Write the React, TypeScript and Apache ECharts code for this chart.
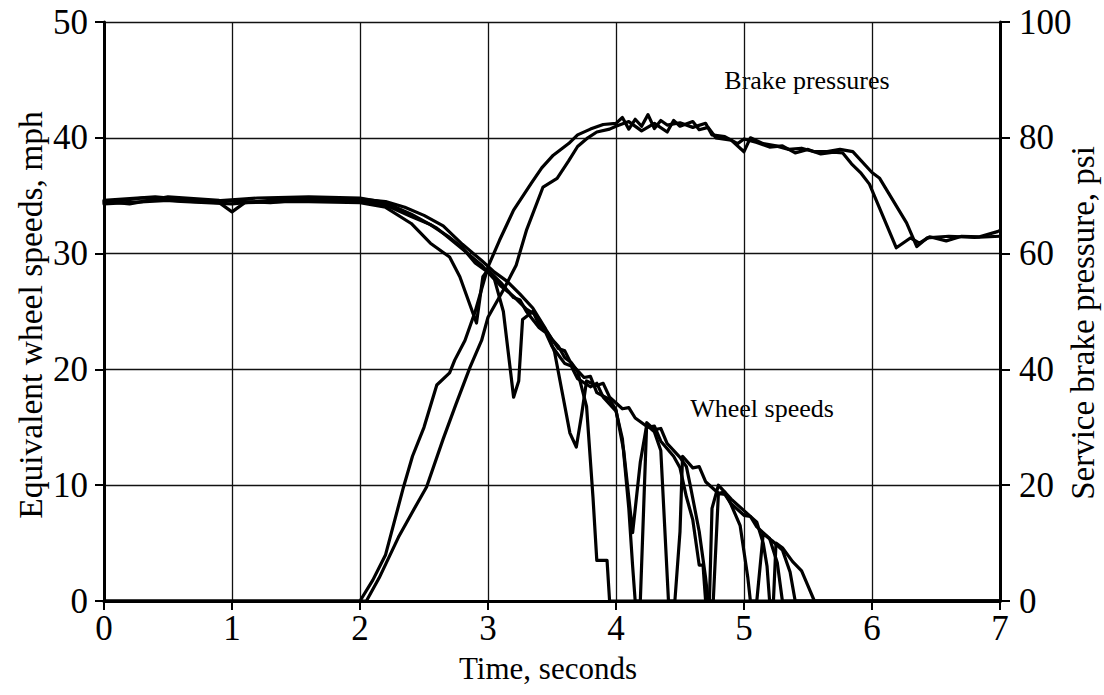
import React, { useEffect, useRef } from "react";
import * as echarts from "echarts";

// Time axis ticks (seconds) and value axis ticks
const timeTicks = [0, 1, 2, 3, 4, 5, 6, 7];
const speedTicks = [0, 10, 20, 30, 40, 50];
const pressureTicks = [0, 20, 40, 60, 80, 100];

// Equivalent wheel speeds, mph: [time s, speed]
const wheel1: number[][] = [
  [0, 34.4], [0.3, 34.8], [0.6, 34.5], [1.0, 34.3], [1.4, 34.7], [1.8, 34.6], [2.0, 34.6],
  [2.2, 34.2], [2.4, 33.2], [2.55, 32.5], [2.7, 31.4], [2.8, 30.5], [2.9, 29.2], [3.0, 28.4],
  [3.1, 27.2], [3.2, 26.3], [3.3, 25.2], [3.36, 24.8], [3.4, 23.8], [3.46, 23.3], [3.5, 22.6],
  [3.55, 22.0], [3.6, 21.0], [3.65, 20.6], [3.7, 19.8], [3.77, 16.8], [3.82, 9], [3.85, 3.5],
  [3.93, 3.5], [3.95, 0], [7, 0],
];
const wheel2: number[][] = [
  [0, 34.3], [0.5, 34.6], [0.9, 34.4], [1.0, 33.6], [1.1, 34.4], [1.5, 34.5], [2.0, 34.4],
  [2.2, 34.0], [2.4, 32.6], [2.55, 30.9], [2.7, 29.7], [2.78, 28], [2.91, 24], [2.96, 28],
  [3.0, 28.6], [3.1, 27.5], [3.2, 26.2], [3.25, 26.0], [3.3, 25], [3.4, 23.6], [3.45, 23.2],
  [3.5, 22], [3.6, 20.5], [3.65, 20.3], [3.7, 19.2], [3.8, 18.5], [3.85, 18.8], [3.9, 17.6],
  [4.0, 16.4], [4.05, 14], [4.1, 8], [4.13, 3], [4.15, 0], [4.19, 0], [4.24, 15.4], [4.3, 14.8],
  [4.35, 14.9], [4.4, 13.6], [4.5, 12.4], [4.55, 11.6], [4.58, 10], [4.65, 6], [4.7, 2],
  [4.72, 0], [4.76, 0], [4.8, 9.3], [4.85, 9.2], [4.9, 8.4], [5.0, 7.4], [5.05, 7.3],
  [5.1, 6.4], [5.2, 5.4], [5.26, 3.3], [5.3, 0], [7, 0],
];
const wheel3: number[][] = [
  [0, 34.6], [0.4, 34.9], [0.8, 34.5], [1.2, 34.8], [1.6, 34.9], [2.0, 34.8], [2.2, 34.4],
  [2.4, 33.4], [2.6, 32.2], [2.8, 30.4], [2.95, 29], [3.05, 27.8], [3.12, 25], [3.2, 17.6],
  [3.24, 19], [3.27, 24.3], [3.35, 25], [3.4, 24.2], [3.45, 23.4], [3.55, 21.8], [3.6, 21.6],
  [3.65, 20.5], [3.75, 19.3], [3.8, 19.4], [3.85, 18], [3.95, 17.4], [4.0, 16.5], [4.06, 13],
  [4.13, 5.9], [4.19, 12], [4.24, 15.2], [4.3, 14.6], [4.35, 13], [4.41, 0], [4.46, 0],
  [4.5, 6], [4.52, 12.5], [4.6, 11.5], [4.65, 11.6], [4.7, 10.3], [4.8, 9.3], [4.85, 9.4],
  [4.9, 8.3], [4.97, 6.5], [5.03, 2], [5.05, 0], [5.1, 0], [5.15, 5.8], [5.22, 5.2],
  [5.3, 4.4], [5.36, 2.5], [5.4, 0], [7, 0],
];
const wheel4: number[][] = [
  [0, 34.5], [0.2, 34.3], [0.5, 34.9], [0.9, 34.6], [1.3, 34.4], [1.7, 34.8], [2.0, 34.7],
  [2.2, 34.5], [2.35, 34], [2.5, 33.3], [2.65, 32.4], [2.8, 30.8], [2.95, 29.4], [3.05, 28.4],
  [3.15, 27.6], [3.25, 26.5], [3.35, 25.3], [3.45, 23.5], [3.52, 21.5], [3.58, 18], [3.64, 14.5],
  [3.69, 13.3], [3.73, 16], [3.77, 19], [3.85, 18.6], [3.9, 18.8], [3.95, 17.6], [4.05, 16.6],
  [4.1, 16.7], [4.15, 15.8], [4.25, 15], [4.3, 15.1], [4.35, 13.8], [4.45, 12.5], [4.5, 11.5],
  [4.55, 9], [4.6, 7], [4.65, 3.1], [4.68, 3.1], [4.7, 0], [4.73, 0], [4.75, 8], [4.8, 10],
  [4.9, 8.8], [5.0, 7.8], [5.1, 6.8], [5.15, 5], [5.18, 3], [5.2, 0], [5.23, 0], [5.25, 5],
  [5.3, 4.6], [5.38, 3.4], [5.45, 2.6], [5.5, 1.3], [5.55, 0], [7, 0],
];

// Service brake pressures, psi: [time s, pressure]
const pressure1: number[][] = [
  [0, 0], [2.0, 0], [2.1, 3.6], [2.2, 8], [2.34, 19.7], [2.41, 25], [2.5, 30], [2.6, 37.3],
  [2.7, 39.4], [2.74, 41.6], [2.82, 45], [2.9, 50], [3.0, 57.7], [3.09, 62.3], [3.2, 67.5],
  [3.34, 72.2], [3.42, 74.8], [3.51, 77], [3.63, 79], [3.7, 80.5], [3.8, 81.5], [3.9, 82.3],
  [4.0, 82.5], [4.05, 83.5], [4.1, 81.5], [4.15, 83.2], [4.2, 82], [4.25, 84], [4.3, 81.6],
  [4.35, 83], [4.4, 82.2], [4.5, 82.6], [4.6, 81.8], [4.7, 82.5], [4.75, 80.5], [4.85, 80.2],
  [4.95, 79], [5.0, 79.8], [5.1, 79.2], [5.2, 78.4], [5.3, 78.6], [5.4, 77.4], [5.5, 78],
  [5.6, 77.2], [5.7, 77.5], [5.77, 77.4], [5.84, 75.5], [5.91, 74], [5.98, 72], [6.19, 61],
  [6.3, 62.7], [6.37, 61.8], [6.45, 62.9], [6.58, 62.2], [6.7, 63], [6.84, 62.9], [6.98, 63.8],
  [7, 64],
];
const pressure2: number[][] = [
  [0, 0], [2.05, 0], [2.15, 4], [2.3, 11], [2.4, 15], [2.52, 19.7], [2.65, 28], [2.75, 34],
  [2.86, 40.4], [2.95, 45], [3.0, 49], [3.12, 53.7], [3.22, 58], [3.3, 64], [3.43, 71.5],
  [3.54, 73], [3.63, 76], [3.7, 78.5], [3.78, 80], [3.85, 81], [3.95, 81.5], [4.0, 82],
  [4.1, 82.8], [4.2, 81.2], [4.3, 82.5], [4.4, 81], [4.45, 83], [4.5, 82], [4.6, 82.8],
  [4.65, 81.4], [4.72, 81.8], [4.78, 80], [4.9, 79.6], [5.0, 77.6], [5.05, 80], [5.15, 79],
  [5.25, 78.6], [5.35, 78], [5.45, 78.2], [5.55, 77.6], [5.65, 77.6], [5.75, 78], [5.85, 77.6],
  [6.0, 74], [6.06, 73], [6.27, 65.3], [6.35, 61.2], [6.43, 62.7], [6.6, 63], [6.8, 62.8],
  [7, 63],
];

const FONT = "'Liberation Serif', 'Times New Roman', serif";

export default function App() {
  const ref = useRef<HTMLDivElement>(null);
  useEffect(() => {
    if (!ref.current) return;
    const chart = echarts.init(ref.current, undefined, { renderer: "svg" });
    const line = (data: number[][], yIdx: number) => ({
      type: "line",
      data,
      yAxisIndex: yIdx,
      showSymbol: false,
      symbol: "none",
      lineStyle: { color: "#000", width: 3.2, join: "round", cap: "round" },
      z: 3,
    });
    const title = (text: string, x: number, y: number, size: number, rot: number) => ({
      type: "text",
      x,
      y,
      rotation: rot,
      style: {
        text,
        fontFamily: FONT,
        fontSize: size,
        fill: "#000",
        align: "center",
        verticalAlign: "middle",
      },
    });
    chart.setOption({
      animation: false,
      backgroundColor: "#fff",
      grid: { left: 104, right: 104, top: 22, bottom: 94, containLabel: false },
      xAxis: {
        type: "value",
        min: timeTicks[0],
        max: timeTicks[timeTicks.length - 1],
        interval: 1,
        axisLine: { show: true, onZero: false, lineStyle: { color: "#000", width: 3 } },
        axisTick: { show: true, inside: false, length: 9, lineStyle: { color: "#000", width: 2 } },
        axisLabel: { margin: 10, color: "#000", fontFamily: FONT, fontSize: 35 },
        splitLine: { show: true, lineStyle: { color: "#111", width: 1.3 } },
      },
      yAxis: [
        {
          type: "value",
          position: "left",
          min: speedTicks[0],
          max: speedTicks[speedTicks.length - 1],
          interval: 10,
          axisLine: { show: true, onZero: false, lineStyle: { color: "#000", width: 3 } },
          axisTick: { show: true, inside: false, length: 9, lineStyle: { color: "#000", width: 2 } },
          axisLabel: { margin: 16, color: "#000", fontFamily: FONT, fontSize: 35 },
          splitLine: { show: true, lineStyle: { color: "#111", width: 1.3 } },
        },
        {
          type: "value",
          position: "right",
          min: pressureTicks[0],
          max: pressureTicks[pressureTicks.length - 1],
          interval: 20,
          axisLine: { show: true, onZero: false, lineStyle: { color: "#000", width: 3 } },
          axisTick: { show: true, inside: false, length: 10, lineStyle: { color: "#000", width: 2 } },
          axisLabel: { margin: 19, color: "#000", fontFamily: FONT, fontSize: 35 },
          splitLine: { show: false },
        },
      ],
      graphic: [
        title("Equivalent wheel speeds, mph", 30, 315, 33.5, Math.PI / 2),
        title("Service brake pressure, psi", 1083, 323, 33, Math.PI / 2),
        title("Time, seconds", 548, 668, 31, 0),
        title("Brake pressures", 807, 80, 26, 0),
        title("Wheel speeds", 762, 408, 26, 0),
      ],
      series: [
        line(wheel1, 0),
        line(wheel2, 0),
        line(wheel3, 0),
        line(wheel4, 0),
        line(pressure1, 1),
        line(pressure2, 1),
      ],
    });
    return () => chart.dispose();
  }, []);
  return (
    <div
      ref={ref}
      style={{ position: "fixed", left: 0, top: 0, width: 1104, height: 695, background: "#fff" }}
    />
  );
}
